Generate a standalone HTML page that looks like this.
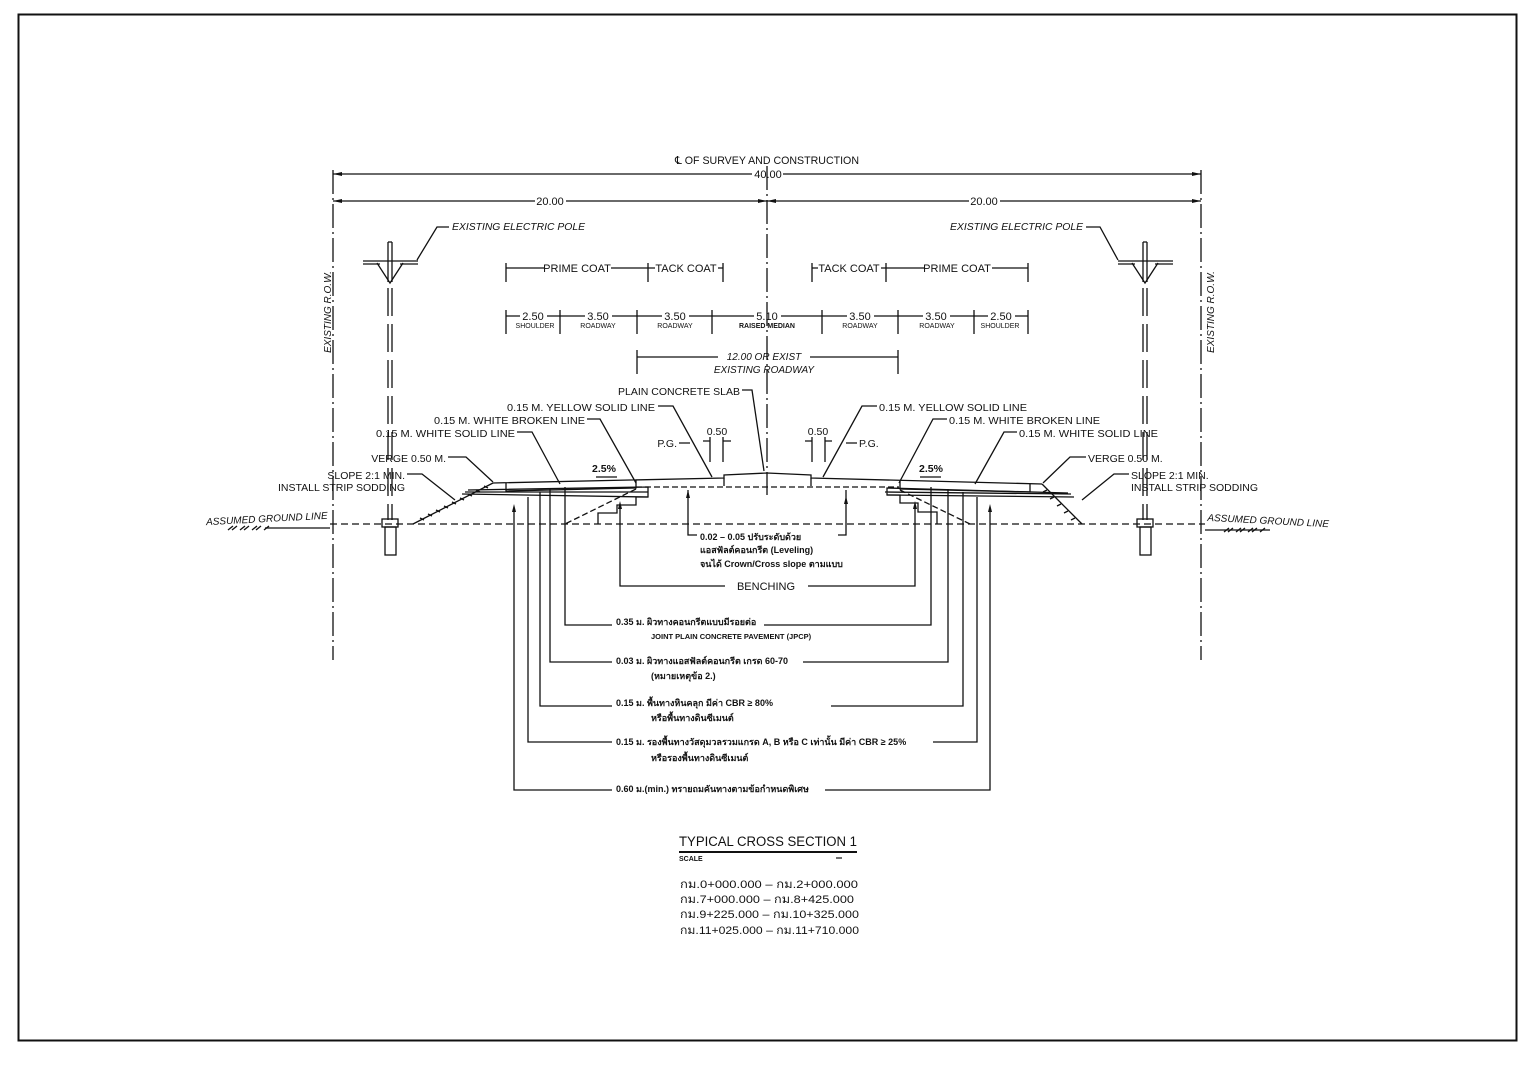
<!DOCTYPE html>
<html><head><meta charset="utf-8"><style>
html,body{margin:0;padding:0;background:#fff;}
svg{display:block;}
text{font-family:"Liberation Sans","Noto Sans CJK SC",sans-serif;fill:#111;}
.i{font-style:italic;}
.th{font-weight:bold;font-size:9px;}
</style></head><body>
<svg width="1538" height="1065" viewBox="0 0 1538 1065" xmlns="http://www.w3.org/2000/svg">
<rect x="0" y="0" width="1538" height="1065" fill="#fff"/>
<rect x="18.5" y="14.5" width="1498" height="1026" fill="none" stroke="#111" stroke-width="2"/>

<g stroke="#111" stroke-width="1.3" fill="none">
<line x1="333" y1="170" x2="333" y2="660" stroke-dasharray="24,4,2,4"/>
<line x1="1201" y1="170" x2="1201" y2="660" stroke-dasharray="24,4,2,4"/>
<line x1="767" y1="166" x2="767" y2="495" stroke-dasharray="24,4,2,4"/>
<line x1="333" y1="174" x2="752" y2="174"/><line x1="783" y1="174" x2="1201" y2="174"/>
<line x1="333" y1="201" x2="535" y2="201"/><line x1="566" y1="201" x2="767" y2="201"/>
<line x1="767" y1="201" x2="969" y2="201"/><line x1="1000" y1="201" x2="1201" y2="201"/>
</g>
<g fill="#111">
<polygon points="333,174 342,172 342,176"/><polygon points="1201,174 1192,172 1192,176"/>
<polygon points="333,201 342,199 342,203"/><polygon points="767,201 758,199 758,203"/>
<polygon points="767,201 776,199 776,203"/><polygon points="1201,201 1192,199 1192,203"/>
</g>
<text x="767" y="164" font-size="11" text-anchor="middle" textLength="184" lengthAdjust="spacingAndGlyphs">℄ OF SURVEY AND CONSTRUCTION</text>
<text x="768" y="178" font-size="11" text-anchor="middle">40.00</text>
<text x="550" y="205" font-size="11" text-anchor="middle">20.00</text>
<text x="984" y="205" font-size="11" text-anchor="middle">20.00</text>

<text class="i" font-size="10" transform="translate(331,312) rotate(-90)" text-anchor="middle">EXISTING R.O.W.</text>
<text class="i" font-size="10" transform="translate(1214,312) rotate(-90)" text-anchor="middle">EXISTING R.O.W.</text>

<g stroke="#111" stroke-width="1.3" fill="none">
<g>
<path d="M388,242 V282 M392,242 V282 M388,242 H392"/>
<path d="M363,261 H418 M363,264 H380 M400,264 H418"/>
<path d="M377,263 L390,283 L403,263"/>
<path d="M388,288 V520 M392,288 V520" stroke-dasharray="28,8"/>
<rect x="382" y="519" width="16" height="8"/>
<rect x="385" y="527" width="11" height="28"/>
</g>
<g transform="translate(755,0)">
<path d="M388,242 V282 M392,242 V282 M388,242 H392"/>
<path d="M363,261 H418 M363,264 H380 M400,264 H418"/>
<path d="M377,263 L390,283 L403,263"/>
<path d="M388,288 V520 M392,288 V520" stroke-dasharray="28,8"/>
<rect x="382" y="519" width="16" height="8"/>
<rect x="385" y="527" width="11" height="28"/>
</g>
<path d="M417,260 L437,227 H449"/>
<path d="M1118,260 L1100,227 H1086"/>
</g>
<text class="i" x="452" y="230" font-size="10" textLength="133" lengthAdjust="spacingAndGlyphs">EXISTING ELECTRIC POLE</text>
<text class="i" x="950" y="230" font-size="10" textLength="133" lengthAdjust="spacingAndGlyphs">EXISTING ELECTRIC POLE</text>

<g stroke="#111" stroke-width="1.3" fill="none">
<path d="M506,263 V282 M648,263 V282 M723,263 V282 M812,263 V282 M886,263 V282 M1028,263 V282"/>
<path d="M506,268 H544 M611,268 H648 M648,268 H655 M718,268 H723"/>
<path d="M812,268 H818 M881,268 H886 M886,268 H925 M992,268 H1028"/>
<path d="M506,310 V334 M560,310 V334 M637,310 V334 M712,310 V334 M822,310 V334 M898,310 V334 M974,310 V334 M1028,310 V334"/>
<path d="M506,316 H520 M547,316 H560 M560,316 H585 M612,316 H637 M637,316 H662 M689,316 H712 M712,316 H754 M781,316 H822 M822,316 H847 M874,316 H898 M898,316 H923 M950,316 H974 M974,316 H988 M1015,316 H1028"/>
<path d="M637,350 V374 M898,350 V374 M637,357 H718 M810,357 H898"/>
</g>
<text x="577" y="272" font-size="11" text-anchor="middle">PRIME COAT</text>
<text x="686" y="272" font-size="11" text-anchor="middle">TACK COAT</text>
<text x="849" y="272" font-size="11" text-anchor="middle">TACK COAT</text>
<text x="957" y="272" font-size="11" text-anchor="middle">PRIME COAT</text>
<g font-size="11" text-anchor="middle">
<text x="533" y="320">2.50</text><text x="598" y="320">3.50</text><text x="675" y="320">3.50</text><text x="767" y="320">5.10</text>
<text x="860" y="320">3.50</text><text x="936" y="320">3.50</text><text x="1001" y="320">2.50</text>
</g>
<g font-size="7" text-anchor="middle">
<text x="535" y="328">SHOULDER</text><text x="598" y="328">ROADWAY</text><text x="675" y="328">ROADWAY</text><text x="767" y="328" font-weight="bold">RAISED MEDIAN</text>
<text x="860" y="328">ROADWAY</text><text x="937" y="328">ROADWAY</text><text x="1000" y="328">SHOULDER</text>
</g>
<text class="i" x="764" y="360" font-size="10" text-anchor="middle">12.00 OR EXIST</text>
<text class="i" x="764" y="373" font-size="10" text-anchor="middle">EXISTING ROADWAY</text>

<g font-size="10.5">
<text x="740" y="395" text-anchor="end">PLAIN CONCRETE SLAB</text>
<text x="655" y="411" text-anchor="end" textLength="148" lengthAdjust="spacingAndGlyphs">0.15 M. YELLOW SOLID LINE</text>
<text x="585" y="424" text-anchor="end" textLength="151" lengthAdjust="spacingAndGlyphs">0.15 M. WHITE BROKEN LINE</text>
<text x="515" y="437" text-anchor="end" textLength="139" lengthAdjust="spacingAndGlyphs">0.15 M. WHITE SOLID LINE</text>
<text x="446" y="462" text-anchor="end">VERGE 0.50 M.</text>
<text x="405" y="479" text-anchor="end">SLOPE 2:1 MIN.</text>
<text x="405" y="491" text-anchor="end">INSTALL STRIP SODDING</text>
<text x="677" y="447" text-anchor="end">P.G.</text>
<text x="717" y="435" text-anchor="middle">0.50</text>
<text x="604" y="472" text-anchor="middle" font-weight="bold">2.5%</text>
<text x="879" y="411" textLength="148" lengthAdjust="spacingAndGlyphs">0.15 M. YELLOW SOLID LINE</text>
<text x="949" y="424" textLength="151" lengthAdjust="spacingAndGlyphs">0.15 M. WHITE BROKEN LINE</text>
<text x="1019" y="437" textLength="139" lengthAdjust="spacingAndGlyphs">0.15 M. WHITE SOLID LINE</text>
<text x="1088" y="462">VERGE 0.50 M.</text>
<text x="1131" y="479">SLOPE 2:1 MIN.</text>
<text x="1131" y="491">INSTALL STRIP SODDING</text>
<text x="859" y="447">P.G.</text>
<text x="818" y="435" text-anchor="middle">0.50</text>
<text x="931" y="472" text-anchor="middle" font-weight="bold">2.5%</text>
</g>
<text class="i" x="267" y="522" font-size="10" text-anchor="middle" transform="rotate(-3 267 522)">ASSUMED GROUND LINE</text>
<text class="i" x="1268" y="524" font-size="10" text-anchor="middle" transform="rotate(3 1268 524)">ASSUMED GROUND LINE</text>

<g stroke="#111" stroke-width="1.3" fill="none">
<path d="M742,390 H752 L764,471"/>
<path d="M658,406 H673 L712,477"/>
<path d="M587,419 H600 L636,483"/>
<path d="M517,432 H532 L560,484"/>
<path d="M448,457 H466 L493,482"/>
<path d="M407,474 H422 L455,500"/>
<path d="M679,443 H690 M703,441 H710 M710,437 V462 M723,437 V462 M723,441 H731"/>
<path d="M596,477 H617 M920,477 H941"/>
<path d="M877,406 H862 L823,477"/>
<path d="M947,419 H933 L899,483"/>
<path d="M1017,432 H1004 L975,484"/>
<path d="M1086,457 H1070 L1043,483"/>
<path d="M1129,474 H1114 L1082,500"/>
<path d="M857,443 H846 M805,441 H812 M812,437 V462 M825,437 V462 M825,441 H832"/>
<path d="M330,524 H1205" stroke-dasharray="7,4"/>
<path d="M265,528 H330 M1205,530 H1270"/>
<path d="M493,483 L724,478 L724,475 L767,473 L811,475 L811,478 L1042,484"/>
<path d="M724,478 V486 M811,478 V486"/>
<path d="M506,483 V491 L636,488 L636,480"/>
<path d="M468,490 L648,487 V497 L462,494 M465,492 L648,492"/>
<path d="M636,487 L899,487" stroke-dasharray="6,3"/>
<path d="M648,497 H636 V505 H617 V513 H598 V524"/>
<path d="M636,489 L565,524" stroke-dasharray="6,3"/>
<path d="M493,483 L413,524"/>
<path d="M1030,484 V492 L900,489 L900,481"/>
<path d="M1068,493 L887,488 V495 L1074,497 M885,492 L1071,494"/>
<path d="M887,495 H900 V503 H918 V512 H937 V524"/>
<path d="M900,490 L970,524" stroke-dasharray="6,3"/>
<path d="M1042,484 L1082,524"/>
<path d="M688,490 V535 H697 M846,490 V535 H838"/>
<path d="M514,508 V790 H612 M825,790 H990 V508"/>
<path d="M528,497 V742 H612 M933,742 H977 V497"/>
<path d="M540,492 V706 H612 M831,706 H963 V492"/>
<path d="M550,489 V662 H612 M803,662 H948 V489"/>
<path d="M565,487 V625 H612 M764,625 H931 V487"/>
<path d="M620,505 V586 H725 M808,586 H915 V505"/>
</g>
<g fill="#111">
<polygon points="514,504 512,512 516,512"/><polygon points="990,504 988,512 992,512"/>
<polygon points="688,490 686,498 690,498"/><polygon points="846,496 844,504 848,504"/>
<polygon points="620,501 618,509 622,509"/><polygon points="915,501 913,509 917,509"/>
</g>
<g stroke="#111" stroke-width="1.3">
<path d="M420,518 l4,2 M428,514 l4,2 M436,510 l4,2 M444,506 l4,2 M452,502 l4,2 M460,498 l4,2 M468,494 l4,2 M476,490 l4,2 M484,486 l4,2"/>
<path d="M1047,490 l-4,2 M1054,497 l-4,2 M1061,504 l-4,2 M1068,511 l-4,2 M1075,518 l-4,2"/>
<path d="M228,530 l5,-4 M232,530 l5,-4 M240,530 l5,-4 M244,530 l5,-4 M252,530 l5,-4 M256,530 l5,-4 M264,530 l5,-4"/>
<path d="M1224,532 l5,-4 M1228,532 l5,-4 M1236,532 l5,-4 M1240,532 l5,-4 M1248,532 l5,-4 M1252,532 l5,-4 M1260,532 l5,-4"/>
</g>

<g class="th">
<text x="700" y="540">0.02 – 0.05 ปรับระดับด้วย</text>
<text x="700" y="553">แอสฟัลต์คอนกรีต (Leveling)</text>
<text x="700" y="567">จนได้ Crown/Cross slope ตามแบบ</text>
<text x="616" y="625">0.35 ม. ผิวทางคอนกรีตแบบมีรอยต่อ</text>
<text x="651" y="639" font-size="7.5">JOINT PLAIN CONCRETE PAVEMENT (JPCP)</text>
<text x="616" y="664">0.03 ม. ผิวทางแอสฟัลต์คอนกรีต เกรด 60-70</text>
<text x="651" y="679">(หมายเหตุข้อ 2.)</text>
<text x="616" y="706">0.15 ม. พื้นทางหินคลุก มีค่า CBR ≥ 80%</text>
<text x="651" y="721">หรือพื้นทางดินซีเมนต์</text>
<text x="616" y="745">0.15 ม. รองพื้นทางวัสดุมวลรวมแกรด A, B หรือ C เท่านั้น มีค่า CBR ≥ 25%</text>
<text x="651" y="761">หรือรองพื้นทางดินซีเมนต์</text>
<text x="616" y="792">0.60 ม.(min.) ทรายถมคันทางตามข้อกำหนดพิเศษ</text>
</g>
<text x="766" y="590" font-size="11" text-anchor="middle">BENCHING</text>

<text x="679" y="846" font-size="13.5" textLength="178" lengthAdjust="spacingAndGlyphs">TYPICAL CROSS SECTION 1</text>
<line x1="679" y1="852" x2="857" y2="852" stroke="#111" stroke-width="2"/>
<text x="679" y="861" font-size="7" font-weight="bold">SCALE</text>
<line x1="836" y1="858" x2="842" y2="858" stroke="#111" stroke-width="1.2"/>
<g font-size="11">
<text x="680" y="888" textLength="178" lengthAdjust="spacingAndGlyphs">กม.0+000.000 – กม.2+000.000</text>
<text x="680" y="903" textLength="174" lengthAdjust="spacingAndGlyphs">กม.7+000.000 – กม.8+425.000</text>
<text x="680" y="918" textLength="179" lengthAdjust="spacingAndGlyphs">กม.9+225.000 – กม.10+325.000</text>
<text x="680" y="934" textLength="179" lengthAdjust="spacingAndGlyphs">กม.11+025.000 – กม.11+710.000</text>
</g>
</svg>
</body></html>
